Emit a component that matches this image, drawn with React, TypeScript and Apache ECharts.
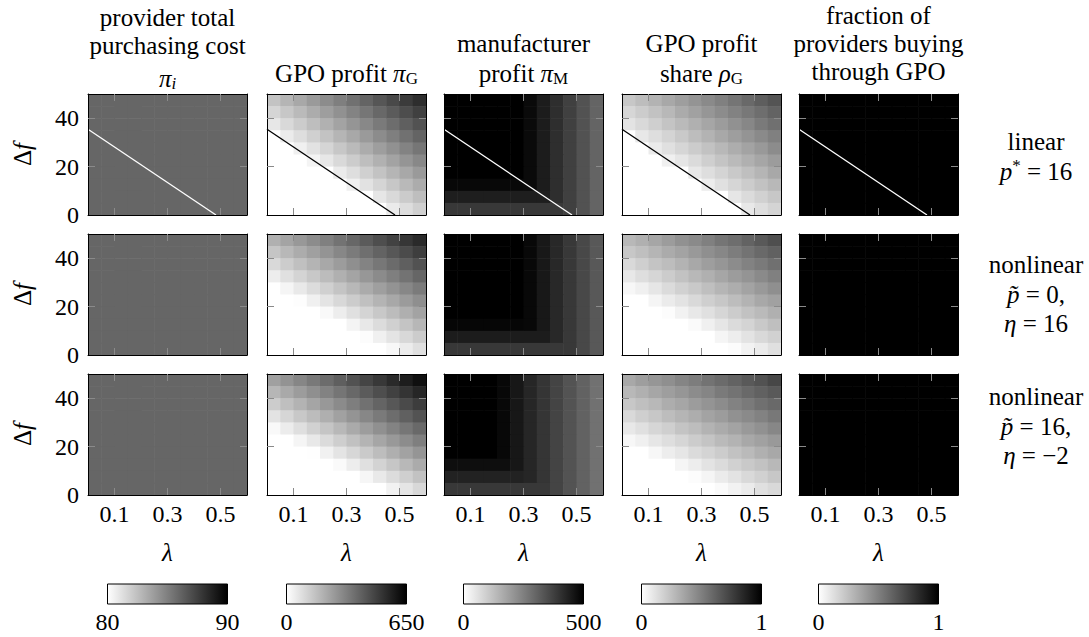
import React, { useEffect, useRef } from "react";
import * as echarts from "echarts";

// ---------------- data ----------------
const lambdaCenters = [0.025, 0.075, 0.125, 0.175, 0.225, 0.275, 0.325, 0.375, 0.425, 0.475, 0.525, 0.575];
const deltaFCenters = [47.5, 42.5, 37.5, 32.5, 27.5, 22.5, 17.5, 12.5, 7.5, 2.5];
const lambdaTicks = [0.1, 0.3, 0.5];
const deltaFLabels = [0, 20, 40];
const deltaFTicks = [20, 40];
const lambdaRange = [0, 0.6];
const deltaFRange = [0, 50];
const colorbarRanges = [[80, 90], [0, 650], [0, 500], [0, 1], [0, 1]];
const boundaryLambda = [0, 0.483];
const boundaryDeltaF = [35.4, 0];

const columnTitles = [
  ["provider total", "purchasing cost", "{m|π}{si|i}"],
  ["GPO profit {m|π}{s|G}"],
  ["manufacturer", "profit {m|π}{s|M}"],
  ["GPO profit", "share {m|ρ}{s|G}"],
  ["fraction of", "providers buying", "through GPO"],
];
const rowLabels = [
  ["linear", "{i|p}{sup|*} = 16"],
  ["nonlinear", "{i|p\u0303} = 0,", "{i|η} = 16"],
  ["nonlinear", "{i|p\u0303} = 16,", "{i|η} = \u22122"],
];

// provider total purchasing cost (80..90)
const costLinear = [
  [86, 86, 86, 86, 86, 86, 86, 86, 86, 86, 86, 86],
  [86, 86, 86, 86, 86, 86, 86, 86, 86, 86, 86, 86],
  [86, 86, 86, 86, 86, 86, 86, 86, 86, 86, 86, 86],
  [86, 86, 86, 86, 86, 86, 86, 86, 86, 86, 86, 86],
  [86, 86, 86, 86, 86, 86, 86, 86, 86, 86, 86, 86],
  [86, 86, 86, 86, 86, 86, 86, 86, 86, 86, 86, 86],
  [86, 86, 86, 86, 86, 86, 86, 86, 86, 86, 86, 86],
  [86, 86, 86, 86, 86, 86, 86, 86, 86, 86, 86, 86],
  [86, 86, 86, 86, 86, 86, 86, 86, 86, 86, 86, 86],
  [86, 86, 86, 86, 86, 86, 86, 86, 86, 86, 86, 86],
];
const costNl1 = [
  [86, 86, 86, 86, 86, 86, 86, 86, 86, 86, 86, 86],
  [86, 86, 86, 86, 86, 86, 86, 86, 86, 86, 86, 86],
  [86, 86, 86, 86, 86, 86, 86, 86, 86, 86, 86, 86],
  [86, 86, 86, 86, 86, 86, 86, 86, 86, 86, 86, 86],
  [86, 86, 86, 86, 86, 86, 86, 86, 86, 86, 86, 86],
  [86, 86, 86, 86, 86, 86, 86, 86, 86, 86, 86, 86],
  [86, 86, 86, 86, 86, 86, 86, 86, 86, 86, 86, 86],
  [86, 86, 86, 86, 86, 86, 86, 86, 86, 86, 86, 86],
  [86, 86, 86, 86, 86, 86, 86, 86, 86, 86, 86, 86],
  [86, 86, 86, 86, 86, 86, 86, 86, 86, 86, 86, 86],
];
const costNl2 = [
  [86, 86, 86, 86, 86, 86, 86, 86, 86, 86, 86, 86],
  [86, 86, 86, 86, 86, 86, 86, 86, 86, 86, 86, 86],
  [86, 86, 86, 86, 86, 86, 86, 86, 86, 86, 86, 86],
  [86, 86, 86, 86, 86, 86, 86, 86, 86, 86, 86, 86],
  [86, 86, 86, 86, 86, 86, 86, 86, 86, 86, 86, 86],
  [86, 86, 86, 86, 86, 86, 86, 86, 86, 86, 86, 86],
  [86, 86, 86, 86, 86, 86, 86, 86, 86, 86, 86, 86],
  [86, 86, 86, 86, 86, 86, 86, 86, 86, 86, 86, 86],
  [86, 86, 86, 86, 86, 86, 86, 86, 86, 86, 86, 86],
  [86, 86, 86, 86, 86, 86, 86, 86, 86, 86, 86, 86],
];

// GPO profit (0..650)
const gpoLinear = [
  [153, 188, 223, 257, 292, 326, 361, 395, 430, 464, 499, 533],
  [108, 142, 177, 211, 246, 280, 315, 349, 384, 418, 453, 488],
  [62, 96, 131, 165, 200, 234, 269, 303, 338, 373, 407, 442],
  [0, 50, 85, 119, 154, 188, 223, 258, 292, 327, 361, 396],
  [0, 0, 39, 73, 108, 143, 177, 212, 246, 281, 315, 350],
  [0, 0, 0, 28, 62, 97, 131, 166, 200, 235, 269, 304],
  [0, 0, 0, 0, 0, 51, 85, 120, 154, 189, 223, 258],
  [0, 0, 0, 0, 0, 0, 39, 74, 108, 143, 178, 212],
  [0, 0, 0, 0, 0, 0, 0, 0, 63, 97, 132, 166],
  [0, 0, 0, 0, 0, 0, 0, 0, 0, 51, 86, 120],
];
const gpoNl1 = [
  [201, 232, 263, 294, 325, 356, 388, 419, 450, 481, 512, 543],
  [149, 181, 212, 243, 274, 305, 336, 367, 398, 429, 460, 492],
  [98, 129, 160, 191, 222, 253, 285, 316, 347, 378, 409, 440],
  [46, 78, 109, 140, 171, 202, 233, 264, 295, 326, 357, 389],
  [0, 26, 57, 88, 119, 150, 182, 213, 244, 275, 306, 337],
  [0, 0, 6, 37, 68, 99, 130, 161, 192, 223, 254, 286],
  [0, 0, 0, 0, 16, 47, 79, 110, 141, 172, 203, 234],
  [0, 0, 0, 0, 0, 0, 27, 58, 89, 120, 151, 183],
  [0, 0, 0, 0, 0, 0, 0, 7, 38, 69, 100, 131],
  [0, 0, 0, 0, 0, 0, 0, 0, 0, 17, 48, 80],
];
const gpoNl2 = [
  [242, 275, 308, 342, 375, 408, 442, 475, 508, 542, 575, 608],
  [185, 218, 252, 285, 318, 352, 385, 418, 452, 485, 518, 552],
  [129, 162, 195, 229, 262, 295, 329, 362, 395, 429, 462, 495],
  [72, 105, 139, 172, 205, 239, 272, 305, 339, 372, 406, 439],
  [16, 49, 82, 116, 149, 182, 216, 249, 282, 316, 349, 382],
  [0, 0, 26, 59, 92, 126, 159, 192, 226, 259, 292, 326],
  [0, 0, 0, 3, 36, 69, 103, 136, 169, 203, 236, 269],
  [0, 0, 0, 0, 0, 13, 46, 79, 113, 146, 180, 213],
  [0, 0, 0, 0, 0, 0, 0, 23, 56, 90, 123, 156],
  [0, 0, 0, 0, 0, 0, 0, 0, 0, 33, 66, 100],
];

// manufacturer profit (0..500)
const mfrLinear = [
  [500, 500, 500, 500, 500, 500, 480, 445, 410, 375, 339, 304],
  [500, 500, 500, 500, 500, 500, 480, 445, 410, 375, 339, 304],
  [500, 500, 500, 500, 500, 500, 480, 445, 410, 375, 339, 304],
  [500, 500, 500, 500, 500, 500, 480, 445, 410, 375, 339, 304],
  [500, 500, 500, 500, 500, 500, 480, 445, 410, 375, 339, 304],
  [500, 500, 500, 500, 500, 500, 480, 445, 410, 375, 339, 304],
  [500, 500, 500, 500, 500, 500, 480, 445, 410, 375, 339, 304],
  [484, 484, 484, 484, 484, 484, 480, 445, 410, 375, 339, 304],
  [441, 441, 441, 441, 441, 441, 441, 441, 410, 375, 339, 304],
  [390, 390, 390, 390, 390, 390, 390, 390, 390, 375, 339, 304],
];
const mfrNl1 = [
  [500, 500, 500, 500, 500, 500, 484, 453, 422, 390, 359, 327],
  [500, 500, 500, 500, 500, 500, 484, 453, 422, 390, 359, 327],
  [500, 500, 500, 500, 500, 500, 484, 453, 422, 390, 359, 327],
  [500, 500, 500, 500, 500, 500, 484, 453, 422, 390, 359, 327],
  [500, 500, 500, 500, 500, 500, 484, 453, 422, 390, 359, 327],
  [500, 500, 500, 500, 500, 500, 484, 453, 422, 390, 359, 327],
  [500, 500, 500, 500, 500, 500, 484, 453, 422, 390, 359, 327],
  [488, 488, 488, 488, 488, 488, 484, 453, 422, 390, 359, 327],
  [445, 445, 445, 445, 445, 445, 445, 445, 422, 390, 359, 327],
  [390, 390, 390, 390, 390, 390, 390, 390, 390, 390, 359, 327],
];
const mfrNl2 = [
  [500, 500, 500, 500, 484, 455, 425, 396, 367, 337, 308, 278],
  [500, 500, 500, 500, 484, 455, 425, 396, 367, 337, 308, 278],
  [500, 500, 500, 500, 484, 455, 425, 396, 367, 337, 308, 278],
  [500, 500, 500, 500, 484, 455, 425, 396, 367, 337, 308, 278],
  [500, 500, 500, 500, 484, 455, 425, 396, 367, 337, 308, 278],
  [500, 500, 500, 500, 484, 455, 425, 396, 367, 337, 308, 278],
  [500, 500, 500, 500, 484, 455, 425, 396, 367, 337, 308, 278],
  [473, 473, 473, 473, 473, 455, 425, 396, 367, 337, 308, 278],
  [433, 433, 433, 433, 433, 433, 425, 396, 367, 337, 308, 278],
  [390, 390, 390, 390, 390, 390, 390, 390, 367, 337, 308, 278],
];

// GPO profit share (0..1)
const shareLinear = [
  [0.22, 0.26, 0.3, 0.34, 0.38, 0.42, 0.46, 0.5, 0.54, 0.59, 0.63, 0.67],
  [0.16, 0.2, 0.24, 0.28, 0.33, 0.37, 0.41, 0.45, 0.49, 0.53, 0.57, 0.61],
  [0.11, 0.15, 0.19, 0.23, 0.27, 0.31, 0.35, 0.39, 0.43, 0.47, 0.52, 0.56],
  [0, 0.09, 0.13, 0.17, 0.21, 0.26, 0.3, 0.34, 0.38, 0.42, 0.46, 0.5],
  [0, 0, 0.08, 0.12, 0.16, 0.2, 0.24, 0.28, 0.32, 0.36, 0.4, 0.45],
  [0, 0, 0, 0.06, 0.1, 0.14, 0.19, 0.23, 0.27, 0.31, 0.35, 0.39],
  [0, 0, 0, 0, 0, 0.09, 0.13, 0.17, 0.21, 0.25, 0.29, 0.34],
  [0, 0, 0, 0, 0, 0, 0.07, 0.12, 0.16, 0.2, 0.24, 0.28],
  [0, 0, 0, 0, 0, 0, 0, 0, 0.1, 0.14, 0.18, 0.22],
  [0, 0, 0, 0, 0, 0, 0, 0, 0, 0.09, 0.13, 0.17],
];
const shareNl1 = [
  [0.28, 0.31, 0.35, 0.39, 0.43, 0.46, 0.5, 0.54, 0.57, 0.61, 0.65, 0.69],
  [0.22, 0.25, 0.29, 0.33, 0.36, 0.4, 0.44, 0.47, 0.51, 0.55, 0.59, 0.62],
  [0.15, 0.19, 0.23, 0.26, 0.3, 0.34, 0.38, 0.41, 0.45, 0.49, 0.52, 0.56],
  [0.09, 0.13, 0.16, 0.2, 0.24, 0.28, 0.31, 0.35, 0.39, 0.42, 0.46, 0.5],
  [0.03, 0.06, 0.1, 0.14, 0.18, 0.21, 0.25, 0.29, 0.32, 0.36, 0.4, 0.44],
  [0, 0, 0.04, 0.08, 0.11, 0.15, 0.19, 0.22, 0.26, 0.3, 0.34, 0.37],
  [0, 0, 0, 0.01, 0.05, 0.09, 0.12, 0.16, 0.2, 0.24, 0.27, 0.31],
  [0, 0, 0, 0, 0, 0.02, 0.06, 0.1, 0.14, 0.17, 0.21, 0.25],
  [0, 0, 0, 0, 0, 0, 0, 0.04, 0.07, 0.11, 0.15, 0.18],
  [0, 0, 0, 0, 0, 0, 0, 0, 0.01, 0.05, 0.08, 0.12],
];
const shareNl2 = [
  [0.34, 0.38, 0.41, 0.44, 0.48, 0.51, 0.55, 0.58, 0.61, 0.65, 0.68, 0.72],
  [0.28, 0.31, 0.35, 0.38, 0.41, 0.45, 0.48, 0.52, 0.55, 0.59, 0.62, 0.65],
  [0.22, 0.25, 0.28, 0.32, 0.35, 0.39, 0.42, 0.45, 0.49, 0.52, 0.56, 0.59],
  [0.15, 0.19, 0.22, 0.26, 0.29, 0.32, 0.36, 0.39, 0.43, 0.46, 0.49, 0.53],
  [0.09, 0.12, 0.16, 0.19, 0.23, 0.26, 0.3, 0.33, 0.36, 0.4, 0.43, 0.47],
  [0.03, 0.06, 0.1, 0.13, 0.16, 0.2, 0.23, 0.27, 0.3, 0.34, 0.37, 0.4],
  [0, 0, 0.03, 0.07, 0.1, 0.14, 0.17, 0.2, 0.24, 0.27, 0.31, 0.34],
  [0, 0, 0, 0, 0.04, 0.07, 0.11, 0.14, 0.18, 0.21, 0.24, 0.28],
  [0, 0, 0, 0, 0, 0.01, 0.04, 0.08, 0.11, 0.15, 0.18, 0.22],
  [0, 0, 0, 0, 0, 0, 0, 0.02, 0.05, 0.08, 0.12, 0.15],
];

// fraction of providers buying through GPO (0..1)
const fracLinear = [
  [1, 1, 1, 1, 1, 1, 1, 1, 1, 1, 1, 1],
  [1, 1, 1, 1, 1, 1, 1, 1, 1, 1, 1, 1],
  [1, 1, 1, 1, 1, 1, 1, 1, 1, 1, 1, 1],
  [1, 1, 1, 1, 1, 1, 1, 1, 1, 1, 1, 1],
  [1, 1, 1, 1, 1, 1, 1, 1, 1, 1, 1, 1],
  [1, 1, 1, 1, 1, 1, 1, 1, 1, 1, 1, 1],
  [1, 1, 1, 1, 1, 1, 1, 1, 1, 1, 1, 1],
  [1, 1, 1, 1, 1, 1, 1, 1, 1, 1, 1, 1],
  [1, 1, 1, 1, 1, 1, 1, 1, 1, 1, 1, 1],
  [1, 1, 1, 1, 1, 1, 1, 1, 1, 1, 1, 1],
];
const fracNl1 = [
  [1, 1, 1, 1, 1, 1, 1, 1, 1, 1, 1, 1],
  [1, 1, 1, 1, 1, 1, 1, 1, 1, 1, 1, 1],
  [1, 1, 1, 1, 1, 1, 1, 1, 1, 1, 1, 1],
  [1, 1, 1, 1, 1, 1, 1, 1, 1, 1, 1, 1],
  [1, 1, 1, 1, 1, 1, 1, 1, 1, 1, 1, 1],
  [1, 1, 1, 1, 1, 1, 1, 1, 1, 1, 1, 1],
  [1, 1, 1, 1, 1, 1, 1, 1, 1, 1, 1, 1],
  [1, 1, 1, 1, 1, 1, 1, 1, 1, 1, 1, 1],
  [1, 1, 1, 1, 1, 1, 1, 1, 1, 1, 1, 1],
  [1, 1, 1, 1, 1, 1, 1, 1, 1, 1, 1, 1],
];
const fracNl2 = [
  [1, 1, 1, 1, 1, 1, 1, 1, 1, 1, 1, 1],
  [1, 1, 1, 1, 1, 1, 1, 1, 1, 1, 1, 1],
  [1, 1, 1, 1, 1, 1, 1, 1, 1, 1, 1, 1],
  [1, 1, 1, 1, 1, 1, 1, 1, 1, 1, 1, 1],
  [1, 1, 1, 1, 1, 1, 1, 1, 1, 1, 1, 1],
  [1, 1, 1, 1, 1, 1, 1, 1, 1, 1, 1, 1],
  [1, 1, 1, 1, 1, 1, 1, 1, 1, 1, 1, 1],
  [1, 1, 1, 1, 1, 1, 1, 1, 1, 1, 1, 1],
  [1, 1, 1, 1, 1, 1, 1, 1, 1, 1, 1, 1],
  [1, 1, 1, 1, 1, 1, 1, 1, 1, 1, 1, 1],
];

const panels = [
  [costLinear, gpoLinear, mfrLinear, shareLinear, fracLinear],
  [costNl1, gpoNl1, mfrNl1, shareNl1, fracNl1],
  [costNl2, gpoNl2, mfrNl2, shareNl2, fracNl2],
];

// ---------------- layout / style ----------------
const FAMILY = "'Liberation Serif'";
const FONT_NAME = "Liberation Serif";
const COL_LEFT = [88, 267, 444, 622, 799];
const ROW_TOP = [94, 234, 374];
const PANEL_W = 159;
const PANEL_H = 121;
const TITLE_Y = [[17, 45, 78], [73], [43, 73], [43, 73], [15, 43, 71]];
const ROW_LABEL_X = 1036;
const ROW_LABEL_Y = [[141, 171], [264, 294, 323], [396, 426, 455]];
const LINE_COLORS = ["#ffffff", "#000000", "#ffffff", "#000000", "#ffffff"];
const TICK_COLOR = "#8a8a8a";
const FS = 24;
const TITLE_FS = 25;

const fnt = (size: number, italic = false) => (italic ? "italic " : "") + size + "px " + FAMILY;

const richStyles = {
  m: { font: fnt(TITLE_FS, true), fill: "#000", lineHeight: 28 },
  i: { font: fnt(TITLE_FS, true), fill: "#000", lineHeight: 28 },
  s: { font: fnt(17), fill: "#000", lineHeight: 17, verticalAlign: "bottom", padding: [9, 0, 0, 0] },
  si: { font: fnt(17, true), fill: "#000", lineHeight: 17, verticalAlign: "bottom", padding: [9, 0, 0, 0] },
  sup: { font: fnt(17), fill: "#000", lineHeight: 17, verticalAlign: "top" },
  f: { font: fnt(FS + 1, true), fill: "#000", lineHeight: 28 },
};

function textEl(text: string, x: number, y: number, size: number, extra: any = {}) {
  const style: any = {
    text,
    font: fnt(size),
    fill: "#000",
    align: "center",
    verticalAlign: "middle",
  };
  if (text.indexOf("{") >= 0) {
    style.rich = richStyles;
    style.lineHeight = 28;
  }
  return { type: "text", x, y, silent: true, ...extra, style };
}

export default function App() {
  const ref = useRef<HTMLDivElement>(null);

  useEffect(() => {
    if (!ref.current) return;
    const chart = echarts.init(ref.current, null, { renderer: "svg" });

    const halfL = (lambdaCenters[1] - lambdaCenters[0]) / 2;
    const halfF = (deltaFCenters[0] - deltaFCenters[1]) / 2;

    const grids: any[] = [];
    const xAxes: any[] = [];
    const yAxes: any[] = [];
    const series: any[] = [];
    const lineSeries: any[] = [];

    const axisLine = { show: true, onZero: false, lineStyle: { color: "#000", width: 1 } };

    for (let r = 0; r < 3; r++) {
      for (let c = 0; c < 5; c++) {
        const gi = r * 5 + c;
        grids.push({ left: COL_LEFT[c], top: ROW_TOP[r], width: PANEL_W, height: PANEL_H });
        const xBase = {
          gridIndex: gi,
          type: "value",
          min: lambdaRange[0],
          max: lambdaRange[1],
          splitLine: { show: false },
          axisLine,
          z: 10,
          axisTick: { show: true, inside: true, length: 7, lineStyle: { color: TICK_COLOR, width: 1 }, customValues: lambdaTicks },
        };
        xAxes.push({
          ...xBase,
          position: "bottom",
          axisLabel: {
            show: r === 2,
            customValues: lambdaTicks,
            formatter: (v: number) => v.toFixed(1),
            fontFamily: FONT_NAME,
            fontSize: FS,
            color: "#000",
            margin: 7,
          },
        });
        xAxes.push({ ...xBase, position: "top", axisLabel: { show: false } });
        const yBase = {
          gridIndex: gi,
          type: "value",
          min: deltaFRange[0],
          max: deltaFRange[1],
          splitLine: { show: false },
          axisLine,
          z: 10,
          axisTick: { show: true, inside: true, length: 7, lineStyle: { color: TICK_COLOR, width: 1 }, customValues: deltaFTicks },
        };
        yAxes.push({
          ...yBase,
          position: "left",
          axisLabel: {
            show: c === 0,
            customValues: deltaFLabels,
            fontFamily: FONT_NAME,
            fontSize: FS,
            color: "#000",
            margin: 9,
          },
        });
        yAxes.push({ ...yBase, position: "right", axisLabel: { show: false } });

        const grid = panels[r][c];
        const data: number[][] = [];
        for (let i = 0; i < deltaFCenters.length; i++) {
          for (let j = 0; j < lambdaCenters.length; j++) {
            data.push([lambdaCenters[j], deltaFCenters[i], grid[i][j]]);
          }
        }
        series.push({
          type: "custom",
          coordinateSystem: "cartesian2d",
          xAxisIndex: gi * 2,
          yAxisIndex: gi * 2,
          data,
          encode: { x: 0, y: 1 },
          silent: true,
          z: 1,
          renderItem: (_p: any, api: any) => {
            const l = api.value(0);
            const f = api.value(1);
            const a = api.coord([l - halfL, f + halfF]);
            const b = api.coord([l + halfL, f - halfF]);
            return {
              type: "rect",
              shape: { x: a[0], y: a[1], width: b[0] - a[0] + 0.6, height: b[1] - a[1] + 0.6 },
              style: { fill: api.visual("color") },
            };
          },
        });
        if (r === 0) {
          lineSeries.push({
            type: "line",
            xAxisIndex: gi * 2,
            yAxisIndex: gi * 2,
            data: boundaryLambda.map((l, k) => [l, boundaryDeltaF[k]]),
            symbol: "none",
            silent: true,
            z: 5,
            lineStyle: { color: LINE_COLORS[c], width: 1.3 },
          });
        }
      }
    }

    const visualMaps = colorbarRanges.map((rg, c) => ({
      type: "continuous",
      show: false,
      min: rg[0],
      max: rg[1],
      dimension: 2,
      seriesIndex: [c, 5 + c, 10 + c],
      inRange: { color: ["#ffffff", "#000000"] },
    }));

    const graphics: any[] = [];
    columnTitles.forEach((lines, c) => {
      const cx = COL_LEFT[c] + PANEL_W / 2;
      lines.forEach((t, k) => graphics.push(textEl(t, cx, TITLE_Y[c][k], TITLE_FS)));
    });
    rowLabels.forEach((lines, r) => {
      lines.forEach((t, k) => graphics.push(textEl(t, ROW_LABEL_X, ROW_LABEL_Y[r][k], TITLE_FS)));
    });
    for (let r = 0; r < 3; r++) {
      graphics.push(textEl("Δ{f|f}", 22, ROW_TOP[r] + PANEL_H / 2, FS + 1, { rotation: Math.PI / 2 }));
    }
    for (let c = 0; c < 5; c++) {
      const cx = COL_LEFT[c] + PANEL_W / 2;
      graphics.push(textEl("{f|λ}", cx, 552, FS));
      graphics.push({
        type: "rect",
        silent: true,
        shape: { x: cx - 60, y: 584, width: 120, height: 20 },
        style: {
          fill: new echarts.graphic.LinearGradient(0, 0, 1, 0, [
            { offset: 0, color: "#ffffff" },
            { offset: 1, color: "#000000" },
          ]),
          stroke: "#000",
          lineWidth: 1,
        },
      });
      graphics.push(textEl(String(colorbarRanges[c][0]), cx - 60, 622, FS));
      graphics.push(textEl(String(colorbarRanges[c][1]), cx + 60, 622, FS));
    }

    chart.setOption({
      animation: false,
      backgroundColor: "#ffffff",
      textStyle: { fontFamily: FONT_NAME },
      grid: grids,
      xAxis: xAxes,
      yAxis: yAxes,
      visualMap: visualMaps,
      series: [...series, ...lineSeries],
      graphic: { elements: graphics },
    });

    return () => chart.dispose();
  }, []);

  return (
    <div
      ref={ref}
      style={{ position: "fixed", left: 0, top: 0, width: 1089, height: 637, background: "#fff" }}
    />
  );
}
